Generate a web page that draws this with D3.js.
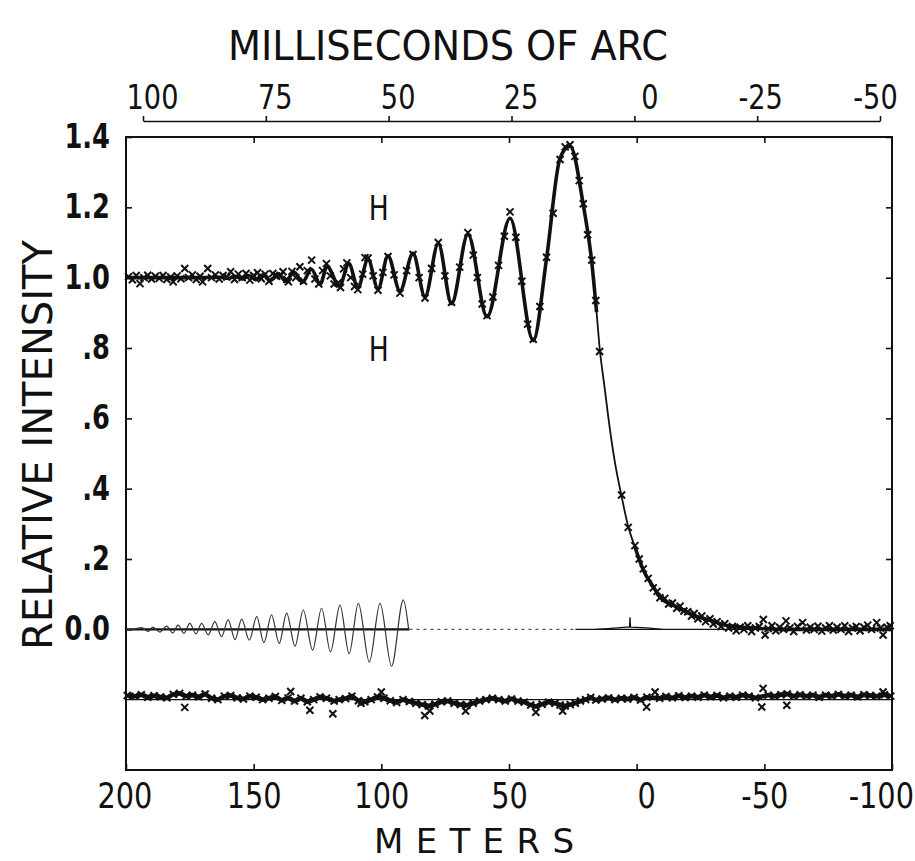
<!DOCTYPE html>
<html>
<head>
<meta charset="utf-8">
<script src="https://cdn.jsdelivr.net/npm/d3@7"></script>
<style>
  body { margin: 0; background: #fff; }
  svg { display: block; }
  text { font-family: "DejaVu Sans", "Liberation Sans", sans-serif; fill: #111; }
</style>
</head>
<body>
<div class="occultation-wrapper"></div>
<script>
// tick values & labels
let meterTicks = [200, 150, 100, 50, 0, -50, -100];
let masTicks = [100, 75, 50, 25, 0, -25, -50];
let yTicks = [1.4, 1.2, 1.0, 0.8, 0.6, 0.4, 0.2, 0.0];
let yTickLabels = ["1.4", "1.2", "1.0", ".8", ".6", ".4", ".2", "0.0"];

// fitted model light curve [meters, relative intensity]
let fitCurve = [
  [200, 1.0], [175, 1.0], [163, 1.001], [160, 0.998], [157.3, 1.004], [154.4, 0.996],
  [151.9, 1.006], [149.1, 0.994], [146.4, 1.008], [143.4, 0.992], [140.5, 1.011], [137.4, 0.99],
  [134.2, 1.016], [130.9, 0.987], [127.4, 1.024], [123.9, 0.982], [121.3, 1.032], [116.4, 0.976],
  [112.7, 1.04], [109.2, 0.972], [105.2, 1.052], [101.3, 0.968], [97.4, 1.062], [92.7, 0.962],
  [87.6, 1.069], [82.9, 0.946], [77.7, 1.097], [72.5, 0.926], [66.1, 1.123], [58.6, 0.889],
  [49.6, 1.169], [40.5, 0.821], [35.3, 1.054], [30.0, 1.34], [26.1, 1.374], [20.9, 1.207],
  [17.6, 1.045], [15.7, 0.902], [14.5, 0.80], [12.6, 0.69], [10.5, 0.57], [8.5, 0.474],
  [5.9, 0.378], [3.3, 0.292], [0.7, 0.235], [-2.6, 0.169], [-6.5, 0.121], [-9.1, 0.092],
  [-15.7, 0.064], [-22.2, 0.04], [-28.7, 0.026], [-35.3, 0.011], [-45.6, 0.004], [-56, 0.0], [-100, 0.0]
];

// observed points (crosses)
let observed = [
  [199, 1.003], [197.5, 0.994], [196, 1.006], [194.5, 0.983], [193, 1.0], [191.5, 1.007], [190, 0.996],
  [188.5, 1.004], [187, 0.998], [185.5, 1.006], [184, 0.995], [182.5, 1.002], [181.5, 0.988], [180, 1.005],
  [178.5, 0.997], [177, 1.026], [175.5, 1.0], [174, 1.008], [172.5, 0.995], [171, 1.004], [170, 0.988],
  [168, 1.026], [166.5, 1.0], [165, 1.008], [163.5, 0.996], [162, 1.006], [160.5, 1.002], [159, 1.017],
  [157.5, 0.995], [156, 1.01], [154.5, 1.0], [153, 1.012], [151.5, 0.993], [150, 1.006], [148.5, 1.014],
  [147, 0.997], [145.5, 1.01], [144, 0.99], [142.5, 1.012], [141, 1.004], [139.5, 1.006], [138.5, 1.017],
  [137, 0.995], [136.4, 0.988], [135, 1.018], [133.5, 1.0], [131.9, 1.031], [130.5, 0.99], [129, 1.02],
  [127.3, 1.05], [126, 0.996], [124.5, 0.982], [123, 1.02], [121.5, 1.04], [120, 1.005], [118.5, 0.982],
  [117, 0.985], [116, 0.972], [114.8, 1.025], [113.5, 1.042], [112, 1.0],
  [110.5, 0.975], [109.2, 0.966], [107.3, 1.01], [106.4, 1.057], [105.2, 1.056], [103.2, 1.005], [101.3, 0.964],
  [99.4, 1.015], [97.4, 1.06], [95, 1.008], [92.7, 0.956], [90.1, 1.02], [87.6, 1.066], [85.2, 1.0],
  [82.9, 0.942], [80.3, 1.026], [77.7, 1.1], [75.1, 1.005], [72.5, 0.93], [69.3, 1.03], [66.1, 1.128],
  [64, 1.064], [62.4, 1.0], [60.5, 0.925], [58.6, 0.892], [56.3, 0.945], [54.1, 1.035], [51.8, 1.118],
  [49.6, 1.187], [47.3, 1.115], [45, 0.99], [42.7, 0.868], [40.5, 0.825], [37.9, 0.918], [35.3, 1.058],
  [32.7, 1.183], [30, 1.336], [28, 1.372], [26.1, 1.378], [24.2, 1.345], [22.5, 1.276], [20.9, 1.21],
  [19.2, 1.122], [17.6, 1.05], [16, 0.935], [14.5, 0.79], [5.9, 0.382], [3.3, 0.29],
  [0.7, 0.238], [-1, 0.2], [-2.6, 0.172], [-4.5, 0.145], [-6.5, 0.118], [-8, 0.108], [-9.1, 0.09],
  [-11, 0.088], [-12.5, 0.072], [-14, 0.075], [-15.7, 0.06], [-17, 0.066], [-18.5, 0.052], [-20, 0.05],
  [-21.5, 0.038], [-22.5, 0.045], [-24, 0.03], [-25.5, 0.038], [-27, 0.022], [-28.7, 0.03], [-30, 0.015],
  [-31.5, 0.022], [-33, 0.008], [-34.5, 0.016], [-36, 0.004],
  [-37.5, 0.008], [-39, -0.004], [-40.5, 0.006], [-42, 0.0], [-43.5, 0.01], [-45, -0.006], [-46.5, 0.004],
  [-48, 0.008], [-49.6, 0.028], [-50.3, -0.016], [-51.5, 0.002], [-53, 0.01], [-54.5, -0.004], [-56, 0.006],
  [-57.5, 0.0], [-58.5, 0.024], [-60, 0.004], [-61.5, -0.006], [-63, 0.008], [-65, 0.019], [-66.5, -0.002],
  [-68, 0.006], [-69.5, 0.0], [-71, 0.009], [-72.5, -0.005], [-74, 0.004], [-75.5, 0.01], [-77, -0.002],
  [-78.5, 0.006], [-80, 0.0], [-81.5, 0.01], [-83, -0.006], [-84.5, 0.004], [-86, 0.008], [-87.5, -0.004],
  [-89, 0.006], [-90.5, 0.012], [-92, 0.0], [-94, 0.019], [-95.5, 0.004], [-96.5, -0.016], [-98, 0.006], [-99.3, 0.01]
];

// residuals, plotted about -0.2
let residual = [
  [199.5, -0.188], [196.5, -0.19], [194, -0.186], [191.5, -0.193], [189, -0.189], [186.5, -0.192], [184, -0.195],
  [181.5, -0.185], [179, -0.182], [176.5, -0.19], [174, -0.187], [171.5, -0.192], [169, -0.184], [166.5, -0.196],
  [164, -0.2], [161.5, -0.19], [159, -0.188], [156.5, -0.195], [154, -0.198], [151.5, -0.19], [149, -0.193],
  [146.5, -0.2], [144, -0.196], [141.5, -0.191], [139, -0.202], [136.5, -0.195], [134, -0.204], [131.5, -0.196],
  [129, -0.206], [126.5, -0.2], [124, -0.192], [121.5, -0.196], [118.5, -0.204], [116.5, -0.2], [114, -0.197],
  [111.5, -0.19], [109, -0.203], [108, -0.21], [106.5, -0.206], [104, -0.2], [101.5, -0.192], [99, -0.196],
  [96.5, -0.203], [94, -0.208], [91.5, -0.2], [89, -0.205], [86.5, -0.21], [84, -0.214], [81.5, -0.218],
  [79, -0.213], [76.5, -0.206], [74, -0.204], [71.5, -0.21], [69, -0.214], [66.5, -0.216], [64, -0.21],
  [61.5, -0.204], [59, -0.2], [56.5, -0.196], [54, -0.2], [51.5, -0.204], [49, -0.198], [46.5, -0.204],
  [44, -0.207], [41.5, -0.215], [39.5, -0.219], [37, -0.213], [34.5, -0.207], [32, -0.21], [30, -0.215],
  [28, -0.218], [26, -0.214], [24, -0.21], [22, -0.204], [20, -0.2], [18, -0.194], [16, -0.201],
  [13.5, -0.198], [11, -0.195], [8.5, -0.2], [6, -0.196], [3.5, -0.198], [1, -0.194], [-1.5, -0.201],
  [-4, -0.193], [-9, -0.196], [-11.5, -0.191], [-14, -0.195], [-16.5, -0.189], [-19, -0.194], [-21.5, -0.19],
  [-24, -0.193], [-26.5, -0.187], [-29, -0.192], [-31.5, -0.188], [-34, -0.195], [-36.5, -0.19], [-39, -0.193],
  [-41.5, -0.187], [-44, -0.19], [-46.5, -0.195], [-51.5, -0.187], [-54, -0.19], [-56.5, -0.186], [-59, -0.184],
  [-61.5, -0.19], [-64, -0.186], [-66.5, -0.19], [-69, -0.187], [-71.5, -0.193], [-74, -0.187], [-76.5, -0.19],
  [-79, -0.185], [-81.5, -0.19], [-84, -0.187], [-86.5, -0.192], [-89, -0.186], [-91.5, -0.188], [-94, -0.19],
  [-97, -0.186], [-99.5, -0.19]
];
let residualOutliers = [
  [177, -0.222], [135.5, -0.177], [128, -0.23], [119, -0.24], [100, -0.178], [83, -0.245], [81, -0.232],
  [67, -0.232], [39.5, -0.236], [29, -0.232], [-3.9, -0.221], [-7.2, -0.178], [-49.5, -0.168], [-49, -0.221],
  [-58.8, -0.216], [-96.5, -0.178]
];

// oscillating difference curve about zero
let fringeDiff = [
  [200, 0], [197, 0.001], [193.9, 0.005], [191.3, -0.006], [189.5, 0.006], [186.7, -0.008], [184.1, 0.009],
  [181.7, -0.01], [179.6, 0.012], [177.3, -0.011], [175.0, 0.017], [172.6, -0.013], [170.4, 0.017],
  [167.8, -0.016], [165.2, 0.022], [162.6, -0.021], [160.0, 0.027], [157.3, -0.029], [154.7, 0.029],
  [151.7, -0.031], [148.8, 0.036], [146.0, -0.038], [143.0, 0.041], [140.0, -0.04], [137.1, 0.046],
  [133.8, -0.048], [130.6, 0.055], [126.9, -0.059], [123.4, 0.06], [119.9, -0.064], [116.2, 0.069],
  [112.6, -0.069], [109.0, 0.074], [104.7, -0.093], [100.5, 0.074], [96.0, -0.105], [91.4, 0.084], [89.3, 0]
];
let spikeTrace = [[16, 0], [10, 0.003], [4, 0.006], [2.8, 0.006], [2.6, 0.034], [2.4, 0.006], [-4, 0.004], [-10, 0]];

let vizW = 915;
let vizH = 861;
let plotL = 126, plotR = 892, plotT = 137, plotB = 770;

let viz = d3.select(".occultation-wrapper")
  .append("svg")
  .attr("width", vizW)
  .attr("height", vizH)
  .style("background-color", "#fff");

let xScale = d3.scaleLinear().domain([200, -100]).range([plotL, plotR]);
let masScale = d3.scaleLinear().domain([100, -50]).range([143, 880]);
let yScale = d3.scaleLinear().domain([-0.4, 1.4]).range([plotB, plotT]);

// frame
viz.append("rect")
  .attr("x", plotL).attr("y", plotT)
  .attr("width", plotR - plotL).attr("height", plotB - plotT)
  .attr("fill", "none").attr("stroke", "#111").attr("stroke-width", 2);

function styleAxis(g, size) {
  g.select(".domain").remove();
  g.selectAll(".tick line").attr("stroke", "#111").attr("stroke-width", 1.6);
  g.selectAll(".tick text").style("font-size", size + "px").attr("fill", "#111");
}

// bottom meters axis (plotter labels: the lone 0 sits a bit right)
let bottomAxisGroup = viz.append("g").attr("transform", "translate(0," + plotB + ")")
  .call(d3.axisBottom(xScale).tickValues(meterTicks).tickSizeInner(-6).tickSizeOuter(0).tickPadding(12).tickFormat(d => String(d)));
styleAxis(bottomAxisGroup, 36);
bottomAxisGroup.selectAll(".tick text")
  .attr("transform", "scale(0.8,1)")
  .attr("x", d => d == 0 ? 12 : d == -100 ? -14 : d == 200 ? -2 : 0);

// inward ticks on top frame
let topFrameGroup = viz.append("g").attr("transform", "translate(0," + plotT + ")")
  .call(d3.axisTop(xScale).tickValues(meterTicks.slice(1, -1)).tickSizeInner(-6).tickSizeOuter(0).tickFormat(""));
styleAxis(topFrameGroup, 10);

// left axis
let leftAxisGroup = viz.append("g").attr("transform", "translate(" + plotL + ",0)")
  .call(d3.axisLeft(yScale).tickValues(yTicks).tickSizeInner(-6).tickSizeOuter(0).tickPadding(16)
    .tickFormat((d, i) => yTickLabels[i]));
styleAxis(leftAxisGroup, 33);
leftAxisGroup.selectAll(".tick text")
  .style("font-weight", "bold")
  .attr("transform", "scale(0.78,1)")
  .attr("x", -16 / 0.78);

// right axis ticks
let rightAxisGroup = viz.append("g").attr("transform", "translate(" + plotR + ",0)")
  .call(d3.axisRight(yScale).tickValues(yTicks).tickSizeInner(-6).tickSizeOuter(0).tickFormat(""));
styleAxis(rightAxisGroup, 10);

// top milliseconds-of-arc axis
let masAxisGroup = viz.append("g").attr("transform", "translate(0,121)")
  .call(d3.axisTop(masScale).tickValues(masTicks).tickSizeInner(5).tickSizeOuter(0).tickPadding(7).tickFormat(d => String(d)));
masAxisGroup.select(".domain").attr("stroke", "#111").attr("stroke-width", 1.6);
masAxisGroup.selectAll(".tick line").attr("stroke", "#111").attr("stroke-width", 1.6);
masAxisGroup.selectAll(".tick text").style("font-size", "34px").attr("fill", "#111")
  .attr("transform", "scale(0.8,1)")
  .attr("x", d => (d == 0 ? 15 : d > 0 ? 9 : d == -25 ? 3 : -5) / 0.8);

// titles
viz.append("text").text("MILLISECONDS OF ARC")
  .attr("x", 448).attr("y", 60).attr("text-anchor", "middle")
  .attr("textLength", 440).attr("lengthAdjust", "spacingAndGlyphs")
  .style("font-size", "40px");
viz.append("text").text("METERS")
  .attr("x", 474).attr("y", 853).attr("text-anchor", "middle")
  .attr("textLength", 200).attr("lengthAdjust", "spacing")
  .style("font-size", "34px");
viz.append("text").text("RELATIVE INTENSITY")
  .attr("transform", "translate(52,445) rotate(-90)").attr("text-anchor", "middle")
  .attr("textLength", 410).attr("lengthAdjust", "spacingAndGlyphs")
  .style("font-size", "40px");

// H marks
viz.selectAll(".hmark").data([1.2, 0.8]).enter().append("text")
  .attr("class", "hmark").text("H")
  .attr("x", xScale(101)).attr("y", d => yScale(d) + 13)
  .attr("text-anchor", "middle").style("font-size", "34px")
  .attr("textLength", 20).attr("lengthAdjust", "spacingAndGlyphs");

let line = d3.line().x(d => xScale(d[0])).y(d => yScale(d[1]));

// zero & residual reference lines
viz.append("path").attr("d", line([[200, 0], [89, 0]])).attr("stroke", "#111").attr("stroke-width", 2.4).attr("fill", "none");
viz.append("path").attr("d", line([[89, 0], [24, 0]])).attr("stroke", "#555").attr("stroke-width", 1.1)
  .attr("stroke-dasharray", "3,4").attr("fill", "none");
viz.append("path").attr("d", line([[24, 0], [-100, 0]])).attr("stroke", "#111").attr("stroke-width", 1.2).attr("fill", "none");
viz.append("path").attr("d", line([[200, -0.2], [-100, -0.2]])).attr("stroke", "#111").attr("stroke-width", 1.2).attr("fill", "none");

// oscillating difference and spike
viz.append("path").attr("d", line.curve(d3.curveMonotoneX)(fringeDiff))
  .attr("stroke", "#333").attr("stroke-width", 1.2).attr("fill", "none");
viz.append("path").attr("d", line.curve(d3.curveLinear)(spikeTrace))
  .attr("stroke", "#111").attr("stroke-width", 1.3).attr("fill", "none");

// fitted curve: thin through the steep drop, heavy where the points pile up
viz.append("path").attr("d", line.curve(d3.curveMonotoneX)(fitCurve))
  .attr("stroke", "#111").attr("stroke-width", 1.8).attr("fill", "none");
viz.append("path").attr("d", line.curve(d3.curveMonotoneX)(fitCurve.filter(d => d[0] >= 15.7)))
  .attr("stroke", "#111").attr("stroke-width", 3.6).attr("fill", "none");
viz.append("path").attr("d", line.curve(d3.curveMonotoneX)(fitCurve.filter(d => d[0] <= 0.7)))
  .attr("stroke", "#111").attr("stroke-width", 3.6).attr("fill", "none");

// residual band
viz.append("path").attr("d", line.curve(d3.curveLinear)(residual))
  .attr("stroke", "#111").attr("stroke-width", 4.5).attr("fill", "none");

let cross = "M-3.5,-3.5L3.5,3.5M-3.5,3.5L3.5,-3.5";
function drawCrosses(data, cls) {
  viz.selectAll("." + cls).data(data).enter().append("path")
    .attr("class", cls)
    .attr("d", cross)
    .attr("transform", d => "translate(" + xScale(d[0]) + "," + yScale(d[1]) + ")")
    .attr("stroke", "#111").attr("stroke-width", 2).attr("fill", "none");
}
drawCrosses(observed, "obs");
drawCrosses(residual, "res");
drawCrosses(residualOutliers, "resout");
</script>
</body>
</html>
